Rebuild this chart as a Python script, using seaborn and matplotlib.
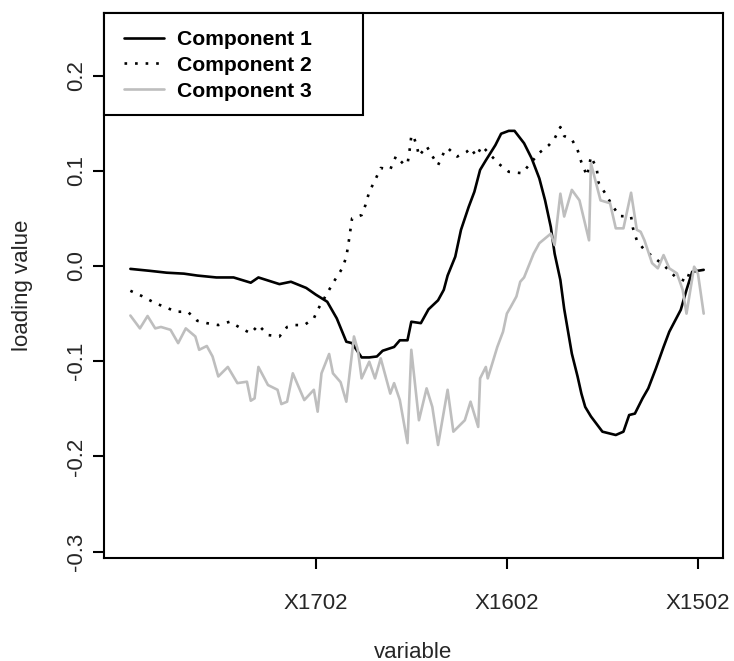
import matplotlib
matplotlib.use("Agg")
import matplotlib.pyplot as plt
import matplotlib.patches as mpatches
from matplotlib.lines import Line2D
import pandas as pd
import seaborn as sns

# ---------------- data ----------------
c1_idx = [3, 13, 22, 31, 38, 48, 57, 66, 70, 81, 87, 95, 100, 106, 111, 116, 119, 124, 128, 132,
          135, 141, 144, 148, 150, 155, 159, 164, 167, 169, 173, 176, 180, 183, 186, 189, 194, 197, 201, 204,
          209, 213, 217, 220, 223, 225, 228, 230, 234, 237, 239, 241, 244, 250, 257, 261, 264, 267, 271, 274,
          278, 282, 285, 291, 294, 297, 303]
c1_val = [-0.003, -0.005, -0.007, -0.008, -0.010, -0.012, -0.012, -0.0175, -0.012, -0.019,
          -0.0165, -0.023, -0.030, -0.0375, -0.055, -0.0795, -0.081, -0.096, -0.096, -0.095,
          -0.089, -0.085, -0.078, -0.078, -0.0585, -0.060, -0.0455, -0.036, -0.025, -0.010,
          0.0098, 0.038, 0.062, 0.078, 0.101, 0.111, 0.127, 0.139, 0.142, 0.142,
          0.129, 0.113, 0.092, 0.069, 0.041, 0.013, -0.0147, -0.045, -0.092, -0.116,
          -0.134, -0.148, -0.158, -0.174, -0.1775, -0.174, -0.1565, -0.155, -0.139, -0.1285,
          -0.1075, -0.085, -0.069, -0.046, -0.025, -0.006, -0.004]

c2_idx = [3, 9, 16, 21, 27, 33, 38, 43, 49, 55, 61, 66, 70, 75, 81, 85, 89, 94, 99, 101,
          107, 110, 114, 116, 117, 118, 119, 124, 126, 128, 131, 134, 139, 142, 146, 148, 149, 150, 151, 153,
          154, 158, 161, 164, 167, 169, 174, 179, 181, 184, 187, 196, 201, 208, 217, 222, 225, 228, 230, 234,
          237, 239, 242, 244, 247, 248, 252, 255, 259, 265, 266, 268, 272, 276, 282, 288, 294, 296, 301]
c2_val = [-0.026, -0.0315, -0.039, -0.043, -0.048, -0.048, -0.0575, -0.060, -0.062, -0.0585,
          -0.0655, -0.0707, -0.062, -0.0725, -0.074, -0.064, -0.062, -0.062, -0.055, -0.046,
          -0.025, -0.0147, -0.002, 0.0098, 0.022, 0.036, 0.050, 0.0535, 0.064, 0.078,
          0.090, 0.103, 0.1015, 0.1155, 0.107, 0.107, 0.120, 0.1365, 0.1375, 0.125,
          0.1155, 0.126, 0.1155, 0.106, 0.119, 0.124, 0.115, 0.120, 0.124, 0.1155,
          0.126, 0.107, 0.099, 0.0975, 0.119, 0.127, 0.134, 0.146, 0.1365, 0.133,
          0.122, 0.109, 0.0945, 0.115, 0.1026, 0.0875, 0.0746, 0.064, 0.0525, 0.052,
          0.0396, 0.027, 0.0168, 0.0105, 0.001, -0.011, -0.0165, -0.004, -0.004]

c3_idx = [3, 8, 12, 16, 19, 24, 28, 32, 37, 39, 43, 46, 49, 54, 59, 64, 66, 68, 70, 75,
          80, 82, 85, 88, 94, 99, 101, 103, 107, 109, 113, 116, 120, 122, 124, 128, 131, 134, 139, 141,
          144, 148, 150, 154, 158, 161, 164, 169, 172, 178, 181, 185, 186, 189, 190, 195, 198, 200, 202, 205,
          207, 209, 214, 217, 223, 225, 226, 228, 230, 234, 238, 243, 244, 249, 254, 257, 261, 265, 268, 270,
          272, 276, 279, 282, 285, 289, 292, 294, 298, 300, 303]
c3_val = [-0.052, -0.0655, -0.0525, -0.0655, -0.064, -0.067, -0.081, -0.0655, -0.074, -0.088,
          -0.084, -0.095, -0.116, -0.106, -0.123, -0.1215, -0.1415, -0.139, -0.106, -0.125,
          -0.130, -0.145, -0.1425, -0.1127, -0.1408, -0.130, -0.153, -0.1127, -0.0924, -0.1127,
          -0.122, -0.1425, -0.074, -0.088, -0.118, -0.1005, -0.118, -0.097, -0.134, -0.123,
          -0.1408, -0.186, -0.088, -0.162, -0.1285, -0.148, -0.188, -0.130, -0.174, -0.162,
          -0.1425, -0.169, -0.118, -0.106, -0.118, -0.085, -0.069, -0.050, -0.043, -0.032,
          -0.0165, -0.012, 0.013, 0.024, 0.034, 0.022, 0.041, 0.076, 0.052, 0.080,
          0.069, 0.027, 0.108, 0.069, 0.066, 0.0396, 0.0396, 0.077, 0.038, 0.036,
          0.027, 0.003, -0.0024, 0.0115, -0.0024, -0.0077, -0.025, -0.050, -0.0007, -0.008,
          -0.050]

components = ["Component 1", "Component 2", "Component 3"]
x_tick_pos = [100, 200, 300]
x_tick_labels = ["X1702", "X1602", "X1502"]
y_ticks = [-0.3, -0.2, -0.1, 0.0, 0.1, 0.2]
y_tick_labels = ["-0.3", "-0.2", "-0.1", "0.0", "0.1", "0.2"]

# ---------------- styling ----------------
sns.set_style("ticks")
plt.rcParams['font.family'] = ['Liberation Sans', 'DejaVu Sans']
plt.rcParams['text.color'] = 'black'

colors = {"Component 1": "black", "Component 2": "black", "Component 3": "#BEBEBE"}
dashes = {"Component 1": "", "Component 2": (1, 3), "Component 3": ""}

df = pd.concat([
    pd.DataFrame({"idx": c1_idx, "value": c1_val, "component": components[0]}),
    pd.DataFrame({"idx": c2_idx, "value": c2_val, "component": components[1]}),
    pd.DataFrame({"idx": c3_idx, "value": c3_val, "component": components[2]}),
], ignore_index=True)

W, H = 734, 661
fig = plt.figure(figsize=(W / 100, H / 100), dpi=100)
L, R, T, B = 104, 723, 13, 558
ax = fig.add_axes([L / W, 1 - B / H, (R - L) / W, (B - T) / H])

lw = 1.9
sns.lineplot(data=df, x="idx", y="value", hue="component", style="component",
             palette=colors, dashes=dashes, linewidth=lw, estimator=None,
             sort=True, legend=False, ax=ax)

ax.set_xlim(-10.8, 313.1)
ax.set_ylim(-0.3067, 0.2658)

fs = 16
ax.set_xticks(x_tick_pos)
ax.set_xticklabels(x_tick_labels, fontsize=fs)
ax.set_yticks(y_ticks)
ax.set_yticklabels(y_tick_labels, fontsize=fs, rotation=90, va="center")
ax.tick_params(axis="both", direction="out", length=8, width=1.5, color="black")
ax.tick_params(axis="x", pad=17)
ax.tick_params(axis="y", pad=4)
for sp in ax.spines.values():
    sp.set_visible(True)
    sp.set_linewidth(1.5)
    sp.set_color("black")

ax.set_xlabel("variable", fontsize=fs)
ax.set_ylabel("loading value", fontsize=fs)
ax.xaxis.set_label_coords(0.5, -(652 - B) / (B - T))
ax.xaxis.label.set_va("center")
ax.yaxis.set_label_coords(-(L - 22) / (R - L), 0.5)
ax.yaxis.label.set_va("center")

# legend box (R style) + entries
box = mpatches.Rectangle((0, 1 - (115 - T) / (B - T)), (363 - L) / (R - L), (115 - T) / (B - T),
                         transform=ax.transAxes, facecolor="white", edgecolor="black",
                         linewidth=1.5, zorder=4, clip_on=False)
ax.add_patch(box)
handles = [Line2D([], [], color=colors[c], linewidth=lw,
                  linestyle=(0, (1, 3)) if c == "Component 2" else "-") for c in components]
leg = ax.legend(handles, components, loc="upper left",
                bbox_to_anchor=((124 - L) / (R - L), 1 - (30 - T) / (B - T)),
                frameon=False, borderpad=0, borderaxespad=0,
                handlelength=1.9, handletextpad=0.62, labelspacing=0.32,
                prop={"weight": "bold", "size": 15.2})
leg.set_zorder(5)

fig.savefig("out.png", dpi=100)
